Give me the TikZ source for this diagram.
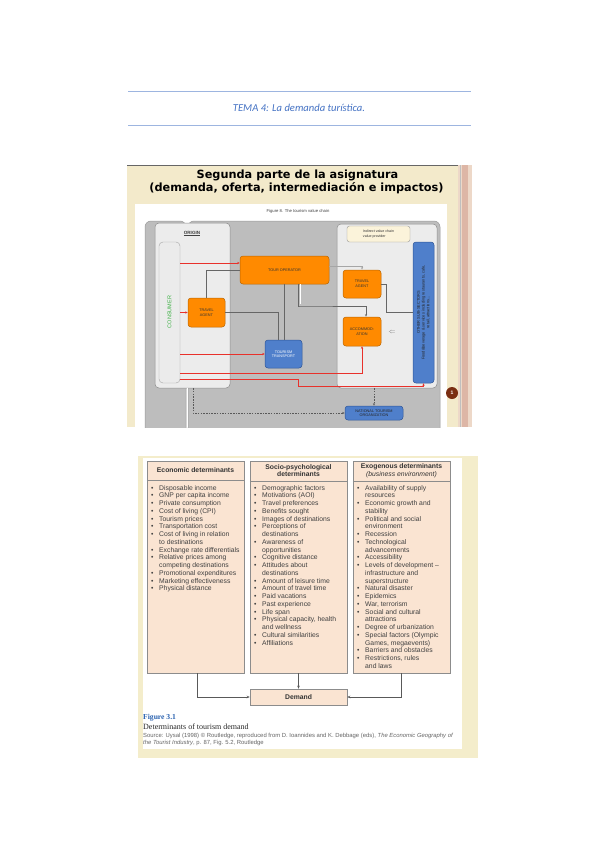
\documentclass[tikz,border=0pt]{standalone}
\usepackage{fontspec}
\setmainfont{Liberation Sans}
\newfontfamily\calib{Carlito}
\newfontfamily\dejab{DejaVu Sans}
\newfontfamily\serifb{Liberation Serif}
\usetikzlibrary{arrows.meta}
\definecolor{hdrblue}{HTML}{4472C4}
\definecolor{hdrline}{HTML}{9DB5E0}
\definecolor{slidebg}{HTML}{F3EACB}
\definecolor{stripeA}{HTML}{EDD8C8}
\definecolor{stripeB}{HTML}{DDB6A6}
\definecolor{graybox}{HTML}{BDBDBD}
\definecolor{panel}{HTML}{ECECEC}
\definecolor{orng}{HTML}{FF8A00}
\definecolor{orngd}{HTML}{B96500}
\definecolor{bluebx}{HTML}{4F7FCB}
\definecolor{blued}{HTML}{2E5597}
\definecolor{redl}{HTML}{E8312B}
\definecolor{peach}{HTML}{FAE4D2}
\definecolor{peachd}{HTML}{8C8C8C}
\definecolor{figyel}{HTML}{F4EDCB}
\definecolor{figblue}{HTML}{2A62B0}
\definecolor{brownc}{HTML}{7A2E12}
\definecolor{labelbg}{HTML}{FBF3DA}
\definecolor{consgreen}{HTML}{3CB043}
\newcommand\bul{\makebox[8pt][l]{•}}
\newcommand\cnt{\makebox[8pt]{}}
\tikzset{
  orangebox/.style={draw=orngd, fill=orng, rounded corners=3pt, line width=0.5pt,
    font=\fontsize{3.8}{4.6}\selectfont, text=black!80, align=center, inner sep=0pt},
  bluebox/.style={draw=blued, fill=bluebx, rounded corners=3pt, line width=0.5pt,
    font=\fontsize{3.8}{4.6}\selectfont, text=white, align=center, inner sep=0pt},
  panelbox/.style={draw=black!45, fill=panel, rounded corners=4pt, line width=0.5pt, inner sep=0pt},
  redline/.style={draw=redl, line width=0.8pt, -{Stealth[length=2.5pt,width=2.2pt]}},
  grayline/.style={draw=black!60, line width=0.5pt},
  graydash/.style={draw=black!65, line width=0.5pt, dashed, dash pattern=on 1.5pt off 1.2pt},
  detbox/.style={draw=peachd, fill=peach, line width=0.5pt, inner sep=0pt},
  listtext/.style={font=\fontsize{6.8}{7.75}\selectfont, text=black!75, align=left, inner sep=0pt, anchor=north west},
  dethead/.style={font=\fontsize{6.8}{7.8}\selectfont\bfseries, text=black!80, align=center, inner sep=0pt},
}
\begin{document}
\begin{tikzpicture}[x=1pt,y=-1pt]
\useasboundingbox (0,0) rectangle (599,848);
\fill[white] (0,0) rectangle (599,848);

% ---------- page header ----------
\draw[hdrline, line width=0.8pt] (128,91) -- (471,91);
\draw[hdrline, line width=0.8pt] (128,125) -- (471,125);
\node[font=\calib\itshape\fontsize{10.6}{12}\selectfont, text=hdrblue] (tema) at (299,108) {TEMA 4: La demanda turística.};

% ---------- slide ----------
\fill[slidebg] (127,165) rectangle (458,427);
\fill[stripeA] (458,165) rectangle (472,427);
\fill[stripeB] (462,165) rectangle (468,427);
\draw[black!25, line width=0.3pt] (460,165) -- (460,427);
\draw[black!60, line width=0.8pt] (127,165.5) -- (458,165.5);
\node[font=\dejab\bfseries\fontsize{11.3}{13}\selectfont] (t1) at (297.5,175.5) {Segunda parte de la asignatura};
\node[font=\dejab\bfseries\fontsize{11.3}{13}\selectfont] (t2) at (296.5,188.5) {(demanda, oferta, intermediación e impactos)};
\fill[white] (135,204) rectangle (447,427);
\node[font=\fontsize{4.2}{5}\selectfont, text=black!75] (cap8) at (298,211) {Figure 8. The tourism value chain};

\begin{scope}
\clip (135,204) rectangle (447,427);
\fill[graybox, draw=black!40, rounded corners=6pt, line width=0.5pt] (145,221) rectangle (186,440);
\fill[graybox, draw=black!40, rounded corners=6pt, line width=0.5pt] (188,221) rectangle (440,440);
\end{scope}

\node[panelbox, minimum width=75, minimum height=165] (orig) at (192.5,305.5) {};
\node[panelbox, minimum width=100, minimum height=164] (dest) at (387,306) {};
\node[font=\fontsize{4.6}{5}\selectfont\bfseries, text=black!75] (origl) at (192,233.5) {\underline{ORIGIN}};
\node[draw=black!35, fill=black!8, rounded corners=4pt, minimum width=21, minimum height=141, inner sep=0] (cons) at (169.5,312.5) {};
\node[rotate=90, font=\fontsize{5.5}{6}\selectfont, text=consgreen] (consl) at (169.5,312) {CONSUMER};
\node[draw=black!40, fill=labelbg, rounded corners=2.5pt, minimum width=63, minimum height=16, inner sep=0,
      font=\fontsize{3.6}{4.4}\selectfont, align=left, text=black!80] (ind) at (378.5,234) {Indirect value chain\\value provider};

\node[orangebox, minimum width=89, minimum height=28] (to) at (284.5,270) {TOUR OPERATOR};
\node[orangebox, minimum width=37, minimum height=29] (tal) at (206.5,312.5) {TRAVEL\\AGENT};
\node[orangebox, minimum width=38, minimum height=28] (tar) at (362,284) {TRAVEL\\AGENT};
\node[orangebox, minimum width=38, minimum height=29] (acc) at (362,331.5) {ACCOMMOD-\\ATION};
\node[bluebox, minimum width=37, minimum height=28] (tt) at (283.5,354) {TOURISM\\TRANSPORT};
\node[bluebox, minimum width=21, minimum height=141] (oss) at (423.5,312.5) {};
\node[rotate=90, font=\fontsize{3.9}{4.8}\selectfont, text=black!85, align=center] (ossl) at (423.5,312.5)
   {OTHER SUB-SECTORS\\Food\&beverage \& services including restaurants, cafe,\\retail, attractions...};
\node[bluebox, minimum width=58, minimum height=14, text=black!85] (nto) at (374,413) {NATIONAL TOURISM\\ORGANIZATION};
\node[font=\fontsize{6}{6}\selectfont, text=black!50] (arr) at (392,332) {$\Leftarrow$};

% gray connectors
\draw[grayline] (to.west) -| (tal.north);
\draw[grayline] (tal.east) -| (tt.north -| 278,0);
\draw[grayline] (to.south -| 284,0) -- (tt.north -| 284,0);
\draw[grayline, -{Stealth[length=2.5pt,width=2pt]}] (to.south -| 298,0) |- (300,306) -| (acc.north -| 366,0);
\draw[white, line width=0.6pt] (to.south -| 300,0) -- (300,304);
\draw[black!35, line width=0.6pt, -{Stealth[length=2.5pt,width=2pt]}] (to.east |- 0,266) -| (tar.north);
\draw[grayline] (tar.east) -- (tar.east -| 386,0) |- (oss.west);

% red connectors
\draw[redline] (cons.east |- 0,263) -- (to.west |- 0,263);
\draw[redline] (cons.east |- tal.west) -- (tal.west);
\draw[redline] (cons.east |- tt.west) -- (tt.west);
\draw[redline] (cons.east |- 0,373) -| (acc.south);
\draw[redline] (cons.east |- 0,379) -- (298,379) -- (298,386.5) -| (oss.south);

% dashed connectors
\draw[white, line width=0.8pt] (orig.south -| 187,0) -- (187,427);
\draw[graydash, -{Stealth[length=2.5pt,width=2pt]}] (orig.south -| 193,0) |- (nto.west);
\draw[graydash, -{Stealth[length=2.5pt,width=2pt]}] (dest.south -| nto.north) -- (nto.north);

\node[circle, fill=brownc, minimum size=12, inner sep=0, text=white, font=\fontsize{5}{5}\selectfont\bfseries] (pg) at (452,393) {1};

% ---------- book figure ----------
\fill[figyel] (138,456) rectangle (478,758);
\fill[white] (143,458) rectangle (462,749);

\node[detbox, minimum width=97, minimum height=212] (b1) at (195.5,567) {};
\node[detbox, minimum width=97, minimum height=212] (b2) at (298.5,567) {};
\node[detbox, minimum width=97, minimum height=212] (b3) at (401.5,567) {};
\draw[peachd, line width=0.5pt] (b1.west |- 0,480) -- (b1.east |- 0,480);
\draw[peachd, line width=0.5pt] (b2.west |- 0,481) -- (b2.east |- 0,481);
\draw[peachd, line width=0.5pt] (b3.west |- 0,481) -- (b3.east |- 0,481);

\node[dethead] (h1) at (195.5,470.5) {Economic determinants};
\node[dethead] (h2) at (298.5,470.5) {Socio-psychological\\determinants};
\node[dethead, font=\fontsize{6.8}{7.8}\selectfont] (h3) at (401.5,470.5) {\textbf{Exogenous determinants}\\\textit{(business environment)}};

\node[listtext] (l1) at (151,485) {\bul Disposable income\\\bul GNP per capita income\\\bul Private consumption\\\bul Cost of living (CPI)\\\bul Tourism prices\\\bul Transportation cost\\\bul Cost of living in relation\\\cnt to destinations\\\bul Exchange rate differentials\\\bul Relative prices among\\\cnt competing destinations\\\bul Promotional expenditures\\\bul Marketing effectiveness\\\bul Physical distance};
\node[listtext] (l2) at (254,485) {\bul Demographic factors\\\bul Motivations (AOI)\\\bul Travel preferences\\\bul Benefits sought\\\bul Images of destinations\\\bul Perceptions of\\\cnt destinations\\\bul Awareness of\\\cnt opportunities\\\bul Cognitive distance\\\bul Attitudes about\\\cnt destinations\\\bul Amount of leisure time\\\bul Amount of travel time\\\bul Paid vacations\\\bul Past experience\\\bul Life span\\\bul Physical capacity, health\\\cnt and wellness\\\bul Cultural similarities\\\bul Affiliations};
\node[listtext] (l3) at (357,485) {\bul Availability of supply\\\cnt resources\\\bul Economic growth and\\\cnt stability\\\bul Political and social\\\cnt environment\\\bul Recession\\\bul Technological\\\cnt advancements\\\bul Accessibility\\\bul Levels of development –\\\cnt infrastructure and\\\cnt superstructure\\\bul Natural disaster\\\bul Epidemics\\\bul War, terrorism\\\bul Social and cultural\\\cnt attractions\\\bul Degree of urbanization\\\bul Special factors (Olympic\\\cnt Games, megaevents)\\\bul Barriers and obstacles\\\bul Restrictions, rules\\\cnt and laws};

\node[detbox, minimum width=97, minimum height=16, font=\fontsize{6.8}{7.8}\selectfont\bfseries, text=black!80] (dem) at (298.5,697) {Demand};
\draw[black!65, line width=0.6pt, -{Stealth[length=3pt,width=2.5pt]}] (b1.south -| 197,0) |- (dem.west);
\draw[black!65, line width=0.6pt, -{Stealth[length=3pt,width=2.5pt]}] (b2.south) -- (dem.north);
\draw[black!65, line width=0.6pt, -{Stealth[length=3pt,width=2.5pt]}] (b3.south -| 401,0) |- (dem.east);

\node[anchor=west, inner sep=0, font=\serifb\bfseries\fontsize{7.6}{8}\selectfont, text=figblue] (fig31) at (143,718) {Figure 3.1};
\node[anchor=west, inner sep=0, font=\serifb\fontsize{8}{9}\selectfont, text=black!85] (figt) at (143,727) {Determinants of tourism demand};
\node[anchor=north west, inner sep=0, font=\fontsize{5.9}{6.4}\selectfont, text=black!60, align=left] (src) at (143,733.5)
  {Source: Uysal (1998) © Routledge, reproduced from D. Ioannides and K. Debbage (eds), \textit{The Economic Geography of}\\\textit{the Tourist Industry}, p. 87, Fig. 5.2, Routledge};
\end{tikzpicture}
\end{document}
